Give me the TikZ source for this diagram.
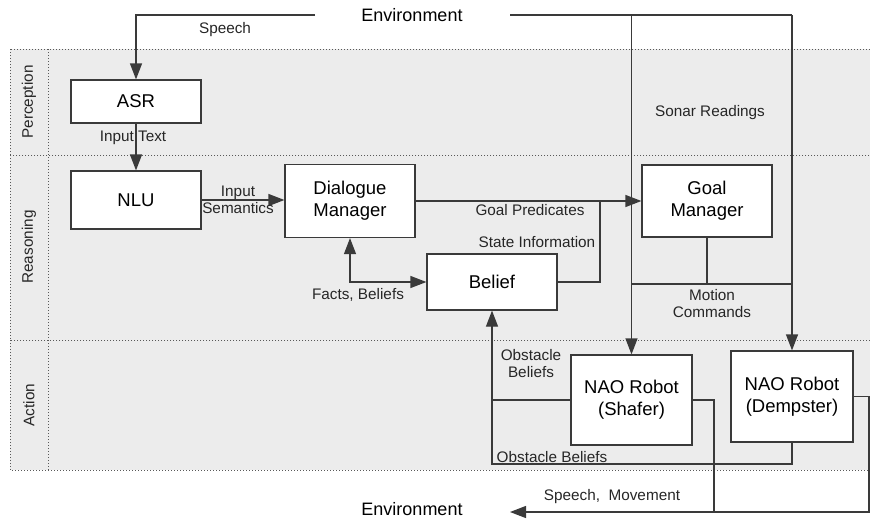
\documentclass[tikz,border=0pt]{standalone}
\usepackage{fontspec}
\setmainfont{Liberation Sans}
\usetikzlibrary{arrows.meta}
\definecolor{lanegray}{HTML}{ECECEC}
\definecolor{linegray}{HTML}{3A3A3A}
\begin{document}
\begin{tikzpicture}[x=1pt,y=-1pt,line width=1.2pt,draw=linegray,
  blok/.style={draw=linegray,fill=white,align=center,font=\fontsize{18.5}{22}\selectfont},
  lbl/.style={align=center,font=\fontsize{15.3}{17}\selectfont,text=black!85},
  lane/.style={draw=black!65,fill=lanegray,dotted,line width=1pt},
  arr/.style={-{Triangle[length=16pt,width=12pt]}}]%
\useasboundingbox (0,0) rectangle (870,520);%
% lanes
\draw[lane] (10,49) rectangle (880,155);%
\draw[lane] (10,155) rectangle (880,340);%
\draw[lane] (10,340) rectangle (880,470);%
\draw[lane] (48,49) -- (48,470);%
\node[lbl,rotate=90] (perc) at (29,102) {Perception};%
\node[lbl,rotate=90] (reas) at (29,247) {Reasoning};%
\node[lbl,rotate=90] (actn) at (29,405) {Action};%
% environment
\node[font=\fontsize{18}{21}\selectfont] (envtop) at (412,15) {Environment};%
\node[font=\fontsize{18}{21}\selectfont] (envbot) at (412,509) {Environment};%
\coordinate (spchend) at (315,15);%
\coordinate (sonarend) at (510,15);%
% boxes
\node[blok,minimum width=130pt,minimum height=43pt] (asr) at (136,101.5) {ASR};%
\node[blok,minimum width=130pt,minimum height=58pt] (nlu) at (136,200) {NLU};%
\node[blok,minimum width=130pt,minimum height=73pt] (dlgmgr) at (350,201) {Dialogue\\Manager};%
\node[blok,minimum width=130pt,minimum height=72pt] (goalmgr) at (707,201) {Goal\\Manager};%
\node[blok,minimum width=130pt,minimum height=56pt] (belief) at (492,282) {Belief};%
\node[blok,minimum width=121pt,minimum height=90pt] (shafer) at (631.5,400) {NAO Robot\\(Shafer)};%
\node[blok,minimum width=122pt,minimum height=91pt] (dempster) at (792,396.5) {NAO Robot\\(Dempster)};%
% connectors
\draw[arr] (spchend) -| (asr.north);%
\draw[arr] (asr.south) -- (nlu.north);%
\draw[arr] (nlu.east) -- (nlu.east -| dlgmgr.west);%
\draw[arr] (dlgmgr.east) -- (goalmgr.west);%
\coordinate (stjoin) at (600,201);%
\draw (belief.east) -| (stjoin);%
\draw[{Triangle[length=16pt,width=12pt]}-{Triangle[length=16pt,width=12pt]}] (dlgmgr.south) |- (belief.west);%
% sonar readings
\draw (sonarend) -- (dempster.north |- sonarend);%
\draw[arr] (shafer.north |- sonarend) -- (shafer.north);%
\draw[arr] (dempster.north |- sonarend) -- (dempster.north);%
% motion commands
\coordinate (mcmd) at (707,284);%
\draw (goalmgr.south) -- (mcmd);%
\draw (shafer.north |- mcmd) -- (dempster.north |- mcmd);%
% obstacle beliefs
\coordinate (obst) at (492,464);%
\draw[arr] (shafer.west) -| (belief.south);%
\draw (dempster.south) |- (obst) -- (belief.south |- shafer.west);%
% speech, movement
\coordinate (smv) at (714,512);%
\coordinate (rcorner) at (869,512);%
\coordinate (envin) at (510,512);%
\draw[arr] (shafer.east) -| (smv) -- (envin);%
\draw (dempster.east) -| (rcorner) -- (smv);%
% labels
\node[lbl] (lspeech) at (225,30) {Speech};%
\node[lbl] (linput) at (133,138) {Input Text};%
\node[lbl] (lsem) at (238,200) {Input\\Semantics};%
\node[lbl] (lgoal) at (530,210) {Goal Predicates};%
\node[lbl] (lstate) at (537,242) {State Information};%
\node[lbl] (lfacts) at (358,295) {Facts, Beliefs};%
\node[lbl] (lsonar) at (710,113) {Sonar Readings};%
\node[lbl] (lmotion) at (712,304) {Motion\\Commands};%
\node[lbl] (lobst) at (531,364) {Obstacle\\Beliefs};%
\node[lbl] (lobstb) at (552,457) {Obstacle Beliefs};%
\node[lbl] (lspmv) at (612,497) {Speech,\ \ Movement};%
\end{tikzpicture}
\end{document}
